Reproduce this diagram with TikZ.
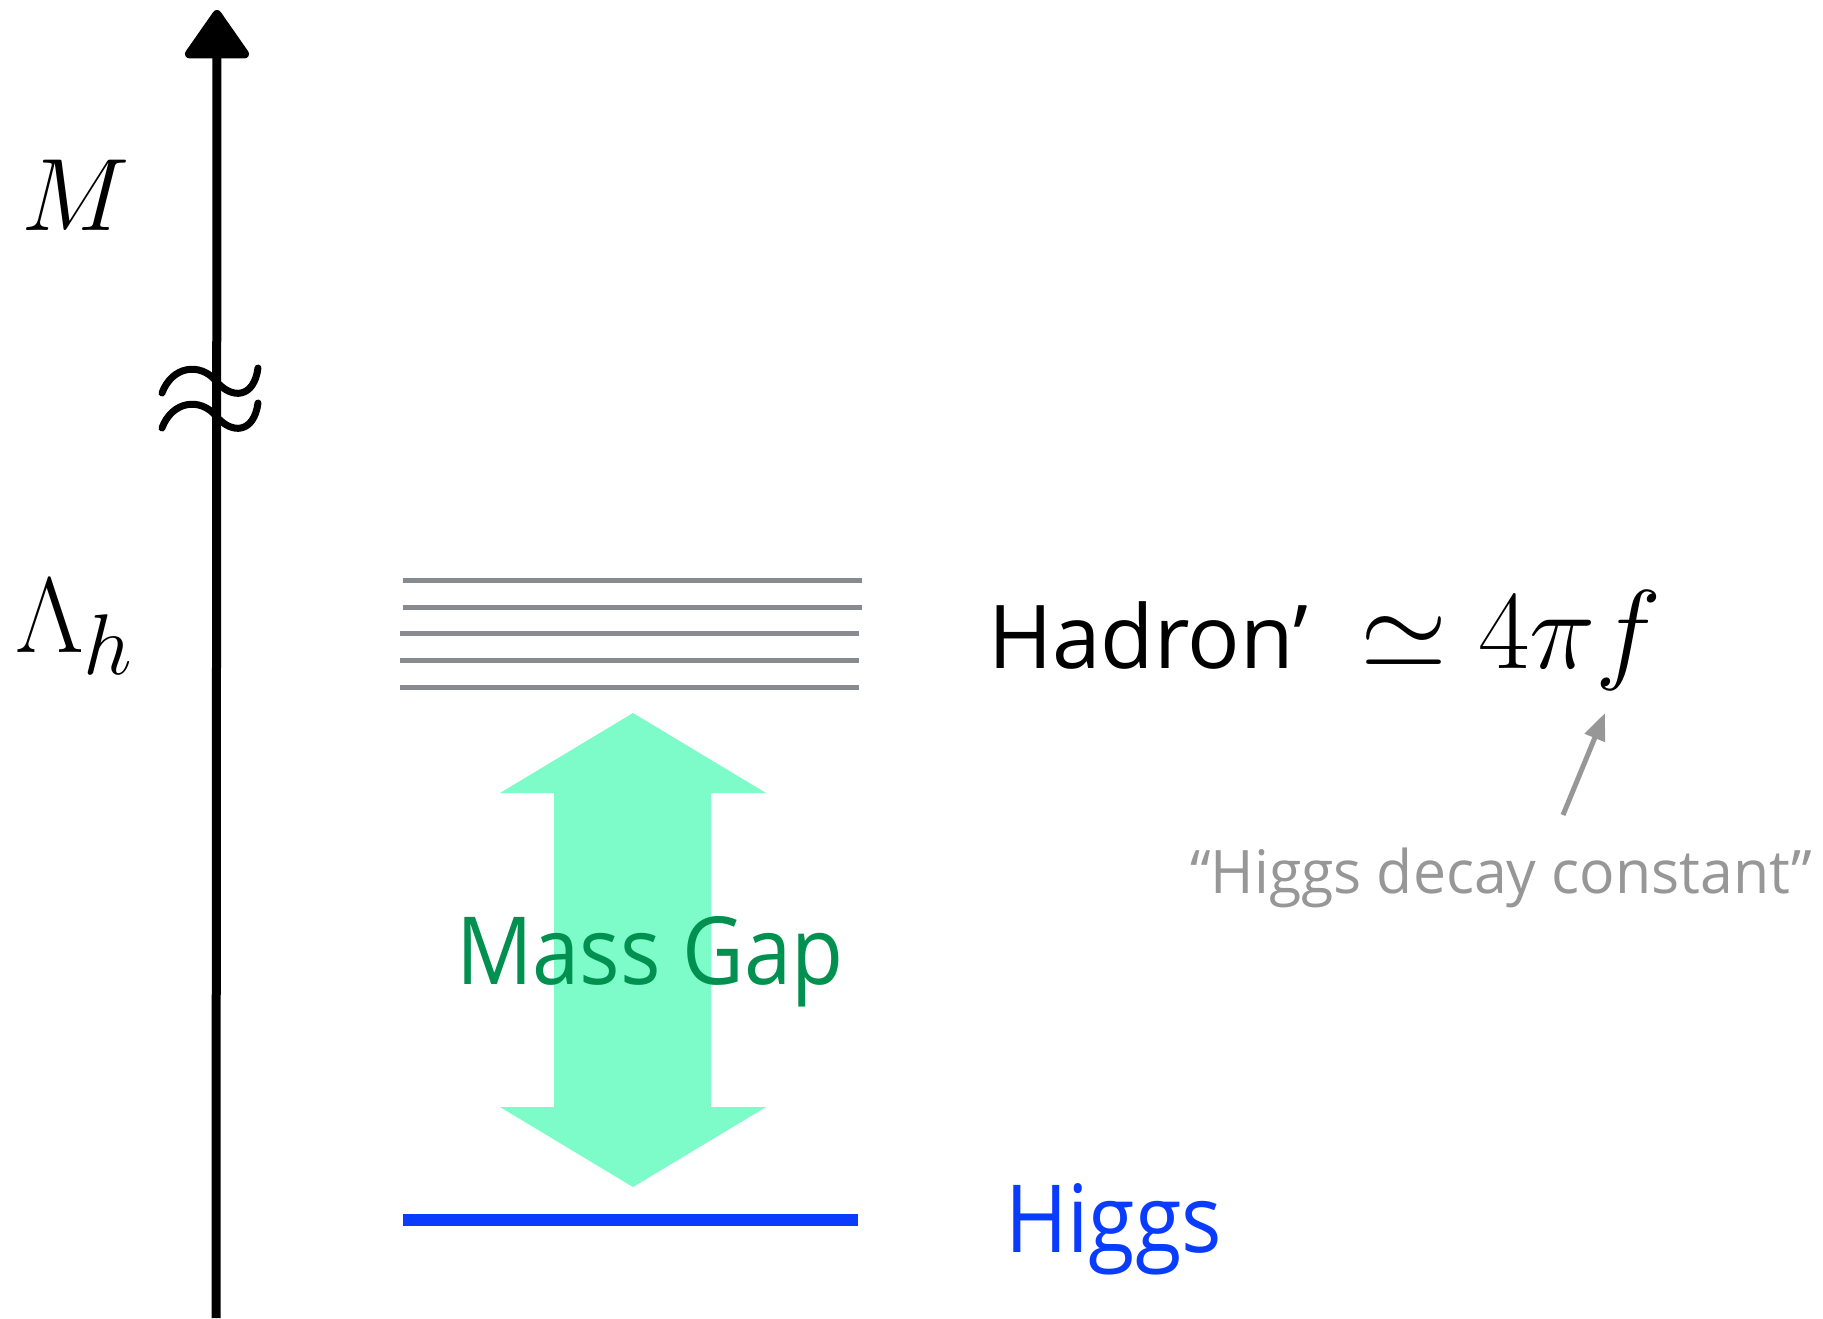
\RequirePackage{fix-cm}
\documentclass[tikz,border=0pt]{standalone}
\usepackage[no-math]{fontspec}
\newfontfamily\gill{Open Sans}
\usetikzlibrary{arrows.meta}
\definecolor{levelgray}{HTML}{878A8E}
\definecolor{higgsblue}{HTML}{0A3CFF}
\definecolor{gapgreen}{HTML}{009150}
\definecolor{arrowgreen}{HTML}{7DFCC9}
\definecolor{annogray}{HTML}{979797}
\newcommand\fitw[2]{\resizebox{#1}{\height}{#2}}
\begin{document}
\begin{tikzpicture}[x=1pt,y=-1pt,
  txt/.style={inner sep=0pt, outer sep=0pt, anchor=base west},
  axisline/.style={line width=9pt, black, -{Triangle[length=52pt,width=70pt,round]}},
  tildeline/.style={line width=7pt, black, line cap=round},
  levelline/.style={line width=5pt, levelgray},
  higgsline/.style={line width=12pt, higgsblue},
  gaparrow/.style={fill=arrowgreen, draw=none},
  annoarrow/.style={line width=5pt, annogray, -{Triangle[length=27pt,width=21pt]}}
]
\useasboundingbox (0,0) rectangle (1823,1318);

% energy axis
\coordinate (axis-bot) at (216,1318);
\coordinate (axis-top) at (217,10);
\draw[axisline] (axis-bot) -- (axis-top);

% break symbol
\draw[tildeline] (162,393) .. controls (172,366) and (200,362) .. (216,381)
                 .. controls (232,400) and (254,398) .. (258,368);
\draw[tildeline] (162,428) .. controls (172,401) and (200,397) .. (216,416)
                 .. controls (232,435) and (254,433) .. (258,403);

% axis labels
\node[txt] (labM) at (21,230) {\fontsize{103}{120}\selectfont$M$};
\node[txt] (labL) at (15,652) {\fontsize{107}{125}\selectfont$\Lambda_{\scalebox{1.15}{$\scriptstyle h$}}$};

% hadron levels
\draw[levelline] (403,580) -- (862,580);
\draw[levelline] (403,607) -- (862,607);
\draw[levelline] (400,633) -- (859,633);
\draw[levelline] (400,660) -- (859,660);
\draw[levelline] (400,687) -- (859,687);

% higgs level
\draw[higgsline] (403,1220) -- (858,1220);

% mass gap double arrow
\fill[gaparrow] (633,713) -- (766,793) -- (711,793) -- (711,1107) -- (766,1107)
  -- (633,1187) -- (500,1107) -- (554,1107) -- (554,793) -- (500,793) -- cycle;

% texts
\node[txt, text=gapgreen] (massgap) at (456,984) {\fitw{388pt}{\gill\fontsize{94}{110}\selectfont Mass Gap}};
\node[txt] (hadron) at (988,668) {\fitw{320pt}{\gill\fontsize{88}{110}\selectfont Hadron’}};
\node[txt] (hmath) at (1360,668) {\fontsize{112}{130}\selectfont$\simeq 4\pi f$};
\node[txt, text=higgsblue] (higgs) at (1005,1252) {\fitw{217pt}{\gill\fontsize{94}{110}\selectfont Higgs}};
\node[txt, text=annogray] (decay) at (1190,893) {\fitw{622pt}{\gill\fontsize{60}{75}\selectfont “Higgs decay constant”}};

% annotation arrow
\coordinate (anno-start) at (1563,815);
\coordinate (anno-end) at (1605,713);
\draw[annoarrow] (anno-start) -- (anno-end);
\end{tikzpicture}
\end{document}
